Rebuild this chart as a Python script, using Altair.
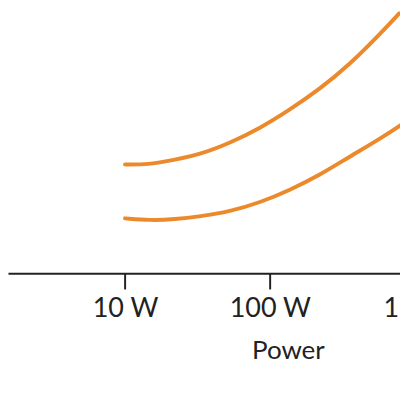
import altair as alt
import pandas as pd

# Data (power in W, value in arbitrary units 0-100)
upper_power = [10, 13.7, 17.4, 32.9, 53.0, 85.3, 137.4, 221, 356, 574, 895, 1100]
upper_value = [41.6, 41.6, 42.3, 45.3, 49.8, 55.4, 62.5, 70.4, 79.8, 91.4, 102.6, 110.0]

lower_power = [10, 14.9, 22.1, 32.9, 53.0, 85.3, 137.4, 221, 356, 574, 895, 1100]
lower_value = [21.0, 20.2, 20.6, 21.7, 23.6, 27.0, 31.8, 37.5, 44.6, 51.3, 58.4, 62.0]

tick_values = [10, 100, 1000]

# annotation leader stub (partly visible at the right edge)
note_power = [826]
note_power2 = [1000]
note_value = [54.7]
note_value2 = [50.6]

rows = []
for p, v in zip(upper_power, upper_value):
    rows.append({"power": p, "value": v, "series": "upper"})
for p, v in zip(lower_power, lower_value):
    rows.append({"power": p, "value": v, "series": "lower"})
df = pd.DataFrame(rows)

note_df = pd.DataFrame({"p": note_power, "p2": note_power2, "v": note_value, "v2": note_value2})

W = 400          # visible plot width
R = 470          # scale range continues past the visible edge
H = 267
px_per_decade = 147.8
ten_at = 119.4
dmin = 10 ** (1 - ten_at / px_per_decade)
dmax = 10 ** (1 + (R - ten_at) / px_per_decade)

xscale = alt.Scale(type="log", domain=[dmin, dmax], range=[0, R], nice=False)
yscale = alt.Scale(domain=[0, 100], nice=False, zero=False)

xaxis = alt.Axis(
    values=tick_values,
    labelExpr="datum.value >= 1000 ? (datum.value/1000) + ' kW' : datum.value + ' W'",
    title="Power",
    titleX=285.6,
    titleY=87,
    titleAlign="center",
    titleBaseline="alphabetic",
    grid=False,
    labelOverlap=False,
    labelBound=False,
    labelFlush=False,
)

lines = alt.Chart(df).mark_line(
    color="#EC8A2B", strokeWidth=4, interpolate="basis", strokeCap="round", clip=True
).encode(
    x=alt.X("power:Q", scale=xscale, axis=xaxis),
    y=alt.Y("value:Q", scale=yscale, axis=None),
    detail="series:N",
)

note = alt.Chart(note_df).mark_rule(color="#333333", strokeWidth=2).encode(
    x=alt.X("p:Q", scale=xscale),
    x2="p2:Q",
    y=alt.Y("v:Q", scale=yscale),
    y2="v2:Q",
)

chart = alt.layer(lines, note).properties(
    width=W,
    height=H,
    autosize=alt.AutoSizeParams(type="none"),
    padding={"left": 0, "top": 0, "right": 0, "bottom": 95},
).configure_view(stroke=None).configure_axis(
    domainColor="#222222",
    domainWidth=2,
    tickColor="#222222",
    tickWidth=2,
    tickSize=16,
    labelFont="Lato",
    labelFontSize=27.5,
    labelColor="#222222",
    labelPadding=6,
    titleFont="Lato",
    titleFontSize=26.5,
    titleFontWeight="normal",
    titleColor="#222222",
)

chart.save("out.html", embed_options={"renderer": "svg", "actions": False})
